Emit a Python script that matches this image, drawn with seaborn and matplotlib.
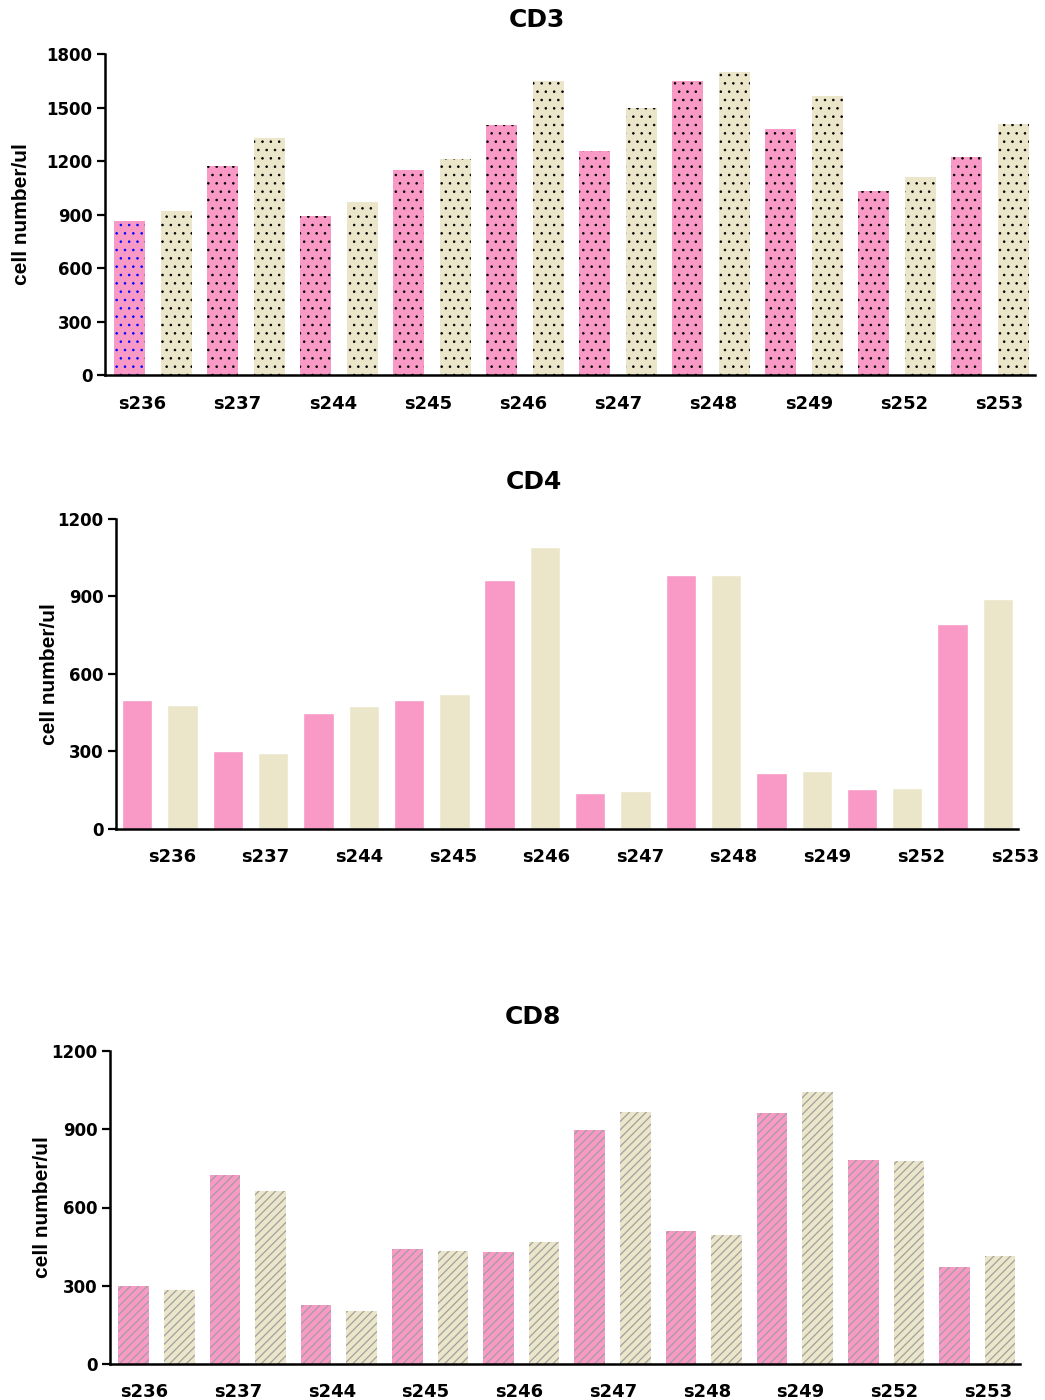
import pandas as pd
import matplotlib.pyplot as plt
import seaborn as sns

# samples and the two conditions (pink / beige)
samples = ["s236", "s237", "s244", "s245", "s246", "s247", "s248", "s249", "s252", "s253"]
conditions = ["A", "B"]

cd3_a = [865, 1175, 890, 1150, 1400, 1255, 1650, 1380, 1030, 1220]
cd3_b = [920, 1330, 970, 1210, 1650, 1500, 1700, 1565, 1110, 1410]

cd4_a = [500, 300, 450, 500, 965, 140, 985, 218, 155, 795]
cd4_b = [480, 295, 476, 523, 1090, 147, 985, 225, 160, 890]

cd8_a = [300, 725, 227, 440, 430, 897, 510, 962, 782, 372]
cd8_b = [285, 663, 203, 433, 468, 966, 495, 1043, 778, 414]

colors = ["#F899C6", "#EBE5C9"]

sns.set_style("ticks")
plt.rcParams["font.family"] = ["DejaVu Sans"]
plt.rcParams["text.color"] = "black"
plt.rcParams["xtick.color"] = "black"
plt.rcParams["ytick.color"] = "black"
plt.rcParams["axes.labelcolor"] = "black"


def make_df(a, b):
    return pd.DataFrame({
        "sample": samples * 2,
        "cond": ["A"] * len(a) + ["B"] * len(b),
        "value": a + b,
    })


fig = plt.figure(figsize=(10.45, 14), dpi=100)

panels = [
    # title, a, b, ymax, ticks, axes rect, hatch, hatch color, hatch lw, label start/step, xlim, ylabel x, title pos
    ("CD3", cd3_a, cd3_b, 1800, [0, 300, 600, 900, 1200, 1500, 1800],
     [0.1005, 0.7321, 0.890, 0.2293], "..", "black", 0.6, (-0.115, 1.024), (-0.515, 9.485), -0.080, (0.514, 0.9857)),
    ("CD4", cd4_a, cd4_b, 1200, [0, 300, 600, 900, 1200],
     [0.111, 0.4079, 0.863, 0.2214], None, None, 0, (0.13, 1.034), (-0.485, 9.47), -0.063, (0.511, 0.6557)),
    ("CD8", cd8_a, cd8_b, 1200, [0, 300, 600, 900, 1200],
     [0.1053, 0.0257, 0.871, 0.2236], "////", "#a0a0a0", 0.9, (-0.135, 1.028), (-0.51, 9.47), -0.064, (0.510, 0.2736)),
]

for title, a, b, ymax, yticks, rect, hatch, hcol, hlw, (lstart, lstep), xlim, ylx, tpos in panels:
    ax = fig.add_axes(rect)
    df = make_df(a, b)
    kw = {}
    if hatch:
        kw = dict(edgecolor=hcol, linewidth=0)
        plt.rcParams["hatch.linewidth"] = hlw
    sns.barplot(data=df, x="sample", y="value", hue="cond", order=samples,
                hue_order=conditions, palette=colors, saturation=1, width=1.0, gap=0.33,
                legend=False, ax=ax, **kw)
    if hatch:
        for p in ax.patches:
            p.set_hatch(hatch)
        if title == "CD3":
            # first bar has blue dots in the original
            ax.patches[0].set_edgecolor("blue")
    ax.set_xlim(*xlim)
    ax.set_ylim(0, ymax)
    ax.set_yticks(yticks)
    ax.set_yticklabels([str(t) for t in yticks], fontsize=12, fontweight="heavy")
    ax.set_xticks([lstart + lstep * i for i in range(len(samples))])
    ax.set_xticklabels(samples, fontsize=13, fontweight="heavy")
    ax.tick_params(axis="x", length=0, pad=14)
    ax.tick_params(axis="y", length=6, width=1.6, pad=3)
    ax.set_xlabel("")
    ax.set_ylabel("cell number/ul", fontsize=15, fontweight="bold",
                  family=["Liberation Sans Narrow", "Liberation Sans", "DejaVu Sans"])
    ax.yaxis.set_label_coords(ylx, 0.5)
    sns.despine(ax=ax)
    for s in ["left", "bottom"]:
        ax.spines[s].set_linewidth(1.8)
        ax.spines[s].set_color("black")
    fig.text(tpos[0], tpos[1], title, ha="center", va="center", fontsize=18, fontweight="heavy")

plt.savefig("out.png", dpi=100)
